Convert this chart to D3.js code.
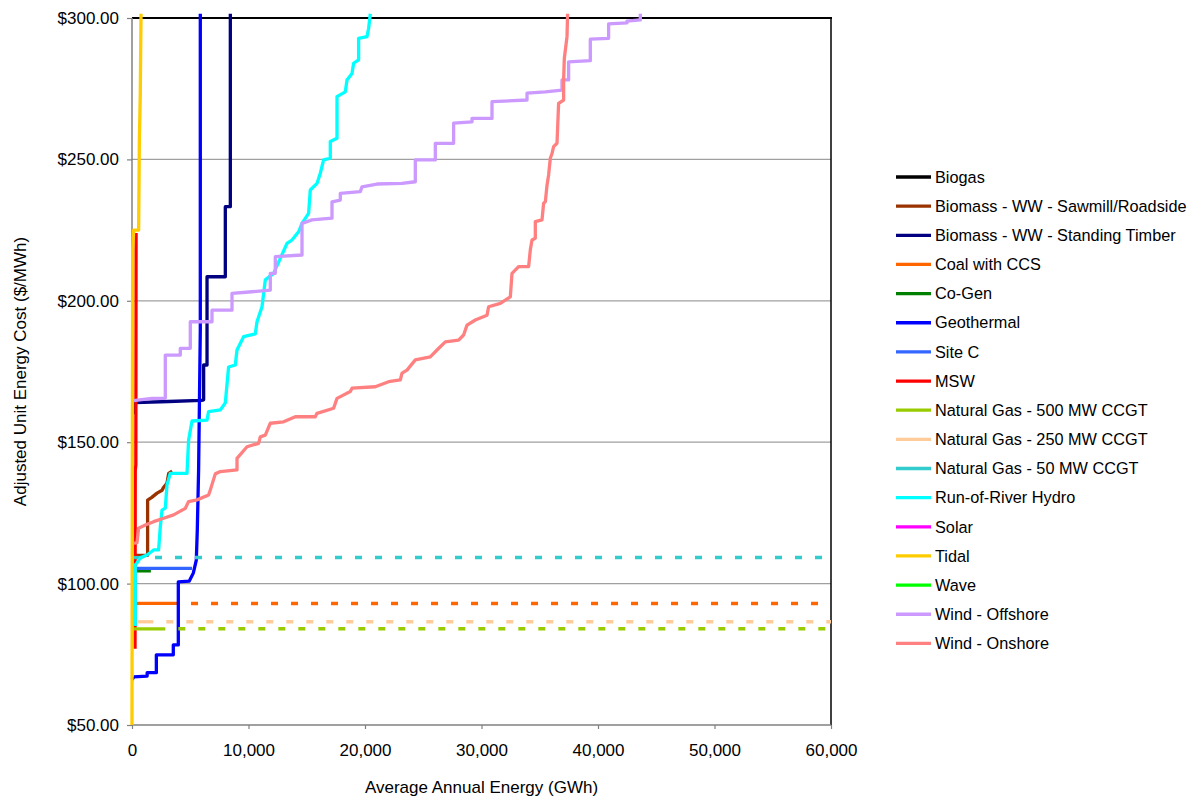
<!DOCTYPE html>
<html><head><meta charset="utf-8">
<script src="https://cdn.jsdelivr.net/npm/d3@7"></script>
<style>
body{margin:0;background:#fff;}
text{font-family:"Liberation Sans",Arial,sans-serif;fill:#000;}
</style>
</head><body><svg id="c" width="1196" height="800"></svg>
<script>
// ---- data: [average annual energy (GWh, cumulative), adjusted unit energy cost ($/MWh)]
const seriesNames = ["Biogas","Biomass - WW - Sawmill/Roadside","Biomass - WW - Standing Timber","Coal with CCS","Co-Gen","Geothermal","Site C","MSW","Natural Gas - 500 MW CCGT","Natural Gas - 250 MW CCGT","Natural Gas - 50 MW CCGT","Run-of-River Hydro","Solar","Tidal","Wave","Wind - Offshore","Wind - Onshore"];
const seriesColors = ["#000000","#993300","#000080","#FF6600","#008000","#0000FF","#3366FF","#FF0000","#99CC00","#FFCC99","#33CCCC","#00FFFF","#FF00FF","#FFCC00","#00FF00","#CC99FF","#FF8080"];
// series whose last value is projected (dashed) to the end of the energy axis
const projectedSeries = ["Coal with CCS","Natural Gas - 500 MW CCGT","Natural Gas - 250 MW CCGT","Natural Gas - 50 MW CCGT"];

const biogas = [[20,66],[120,67]];
const biomassSawmill = [[280,110],[1340,110],[1340,129.5],[1700,130.5],[2150,132],[2580,133],[2700,134],[3000,135.5],[3150,139],[3450,139.8]];
const biomassTimber = [[110,160],[250,164],[3150,164.4],[5950,164.8],[6150,165],[6150,177.3],[6440,177.3],[6440,208.5],[8010,208.5],[8010,233.3],[8440,233.3],[8440,301.5]];
const coalCCS = [[430,93],[3950,93]];
const coGen = [[400,104.5],[1620,104.5]];
const geothermal = [[140,67],[1300,67.3],[1300,68.5],[2090,68.5],[2090,74.8],[3545,74.8],[3545,78.3],[3975,78.3],[3975,100.6],[4920,100.9],[5260,103.7],[5520,108.3],[5605,119],[5717,140.2],[5863,189.7],[5863,301.5]];
const siteC = [[120,105.4],[5150,105.4]];
const msw = [[260,77],[280,140],[330,142],[350,224]];
const ngas500 = [[110,84],[2860,84]];
const ngas250 = [[480,86.5],[1830,86.5]];
const ngas50 = [[140,109.2],[860,109.2]];
const runOfRiver = [[283,85],[283,106.6],[429,107.3],[712,109.1],[1288,110.1],[1854,111.9],[2283,111.9],[2429,120],[2575,126],[2858,126.7],[3004,134.9],[3288,139],[4721,139],[4859,150.8],[5150,157.5],[6438,157.8],[6575,160.8],[7580,161.4],[8009,163.9],[8292,176.6],[8867,177.3],[9013,182.6],[9580,187.3],[10584,188.3],[10730,192.6],[11159,197.9],[11443,207.4],[12155,209.7],[13305,220.3],[13734,221.5],[14300,224.4],[14593,227.4],[15159,230.9],[15305,239.2],[15880,241.5],[16164,245.1],[16447,249.8],[17022,250.4],[17022,256.3],[17597,257.5],[17597,272.2],[18310,273.9],[18456,278.1],[18885,280.4],[19022,284],[19451,285.2],[19451,292.8],[20172,293.4],[20310,296.3],[20456,301.5]];
const solar = [];
const tidal = [[0,50],[30,150],[60,218],[140,225],[570,225],[630,256],[710,273],[775,301.5]];
const wave = [];
const windOffshore = [[137,164.7],[1717,165.5],[2858,165.5],[2858,180.8],[4146,180.8],[4146,183.2],[5004,183.2],[5004,192.6],[6867,192.6],[6867,196.7],[8584,196.7],[8584,202.6],[10301,203.2],[11872,203.8],[11872,209.7],[12301,209.7],[12301,215.6],[14593,216.2],[14593,227.4],[15451,228.6],[17168,229.2],[17168,235],[17880,235.6],[17880,238],[19597,238.6],[19743,240.3],[21031,241.3],[23177,241.5],[24319,242.1],[24319,249.8],[26036,249.8],[26036,255.7],[27607,255.7],[27607,262.8],[29186,263.3],[29186,264.5],[30902,264.5],[30902,270.4],[33907,271],[33907,273.4],[35478,273.9],[36911,274.5],[36911,278.1],[37478,278.1],[37478,284.5],[39340,284.9],[39340,292.5],[40911,292.8],[40911,297.9],[42491,298.3],[42491,298.9],[43633,299.3],[43633,301.5]];
const windOnshore = [[137,114.3],[429,114.4],[567,119.6],[1142,120.7],[1854,121.9],[2713,123.1],[3571,124.3],[4576,126.6],[4859,129],[5580,129.6],[6575,131.3],[6721,133.1],[7150,138.8],[7580,139.6],[9013,140.2],[9013,144.3],[9872,148.4],[10867,149.6],[11013,151.9],[11443,152.5],[11872,156.7],[13013,157.2],[14018,159],[15735,159],[15880,160.2],[17305,162],[17597,165.5],[18739,167.9],[18885,169.1],[20885,169.6],[22027,171.4],[23031,172],[23177,174.4],[23606,175.5],[24319,179.1],[25606,180.2],[26181,182.6],[26894,185.5],[28035,186.1],[28465,187.9],[28756,191.4],[29469,193.2],[30473,194.9],[30611,197.9],[31615,199.1],[32473,201.4],[32619,209.7],[33186,212.1],[34044,212.1],[34190,218],[34336,221.5],[34619,222.1],[34619,228],[35194,228.6],[35332,234.5],[35478,235],[35624,240.9],[35761,244.5],[35907,250.4],[36053,252.1],[36190,254.5],[36482,255.7],[36619,269.8],[37049,271],[37049,278.1],[37109,285.7],[37340,293.4],[37392,301.5]];

const xTicks = [0,10000,20000,30000,40000,50000,60000];
const yTicks = [50,100,150,200,250,300];

const seriesValues = [biogas,biomassSawmill,biomassTimber,coalCCS,coGen,geothermal,siteC,msw,ngas500,ngas250,ngas50,runOfRiver,solar,tidal,wave,windOffshore,windOnshore];

// ---- drawing
const svg = d3.select("#c");
svg.append("rect").attr("width",1196).attr("height",800).attr("fill","#fff");
const L = 132, R = 831, T = 18, B = 725;
const x = d3.scaleLinear().domain([0,60000]).range([L,R]);
const y = d3.scaleLinear().domain([50,300]).range([B,T]);

// gridlines
svg.append("g").selectAll("line").data(yTicks.filter(v => v>50 && v<300)).join("line")
  .attr("x1",L).attr("x2",R).attr("y1",d=>y(d)).attr("y2",d=>y(d))
  .attr("stroke","#a0a0a0").attr("stroke-width",1.2);

// plot border (top / right black)
svg.append("line").attr("x1",L).attr("x2",R+1).attr("y1",T).attr("y2",T).attr("stroke","#000").attr("stroke-width",2);
svg.append("line").attr("x1",R).attr("x2",R).attr("y1",T).attr("y2",B).attr("stroke","#000").attr("stroke-width",1.5);

// axes
const yAxis = d3.axisLeft(y).tickValues(yTicks).tickFormat(d=>"$"+d.toFixed(2)).tickSize(5).tickPadding(8);
const gy = svg.append("g").attr("transform",`translate(${L},0)`).call(yAxis);
const xAxis = d3.axisBottom(x).tickValues(xTicks).tickFormat(d3.format(",")).tickSize(4).tickPadding(15);
const gx = svg.append("g").attr("transform",`translate(0,${B})`).call(xAxis);
[gx,gy].forEach(g=>{
  g.select(".domain").attr("stroke","#808080").attr("stroke-width",1.5);
  g.selectAll(".tick line").attr("stroke","#808080").attr("stroke-width",1.2);
  g.selectAll("text").attr("font-size",17).attr("font-family","Liberation Sans, Arial, sans-serif").attr("fill","#000");
});
gy.select(".domain").attr("d",`M-0,${B}V${T}`);
gx.select(".domain").attr("d",`M${L},0H${R}`);

// axis titles
svg.append("text").attr("x",(L+R)/2).attr("y",793).attr("text-anchor","middle").attr("font-size",17)
  .text("Average Annual Energy (GWh)");
svg.append("text").attr("transform",`translate(26,${(T+B)/2}) rotate(-90)`).attr("text-anchor","middle").attr("font-size",17)
  .text("Adjusted Unit Energy Cost ($/MWh)");

// series
const line = d3.line().x(d=>x(d[0])).y(d=>y(d[1]));
const gs = svg.append("g");
seriesNames.forEach((name,i)=>{
  const vals = seriesValues[i];
  if (!vals.length) return;
  if (projectedSeries.includes(name)) {
    const last = vals[vals.length-1];
    gs.append("path").attr("d",line([last,[x.domain()[1],last[1]]]))
      .attr("fill","none").attr("stroke",seriesColors[i]).attr("stroke-width",3.5)
      .attr("stroke-dasharray","7,13").attr("stroke-dashoffset",7);
  }
  gs.append("path").attr("d",line(vals)).attr("fill","none")
    .attr("stroke",seriesColors[i]).attr("stroke-width",3.3).attr("stroke-linejoin","round");
});

// legend
const lg = svg.append("g");
seriesNames.forEach((name,i)=>{
  const cy = 177 + i*29.15;
  lg.append("line").attr("x1",896).attr("x2",931).attr("y1",cy).attr("y2",cy)
    .attr("stroke",seriesColors[i]).attr("stroke-width",3.3);
  lg.append("text").attr("x",935).attr("y",cy).attr("dy","0.35em").attr("font-size",16.3).text(name);
});
</script>
</body></html>
